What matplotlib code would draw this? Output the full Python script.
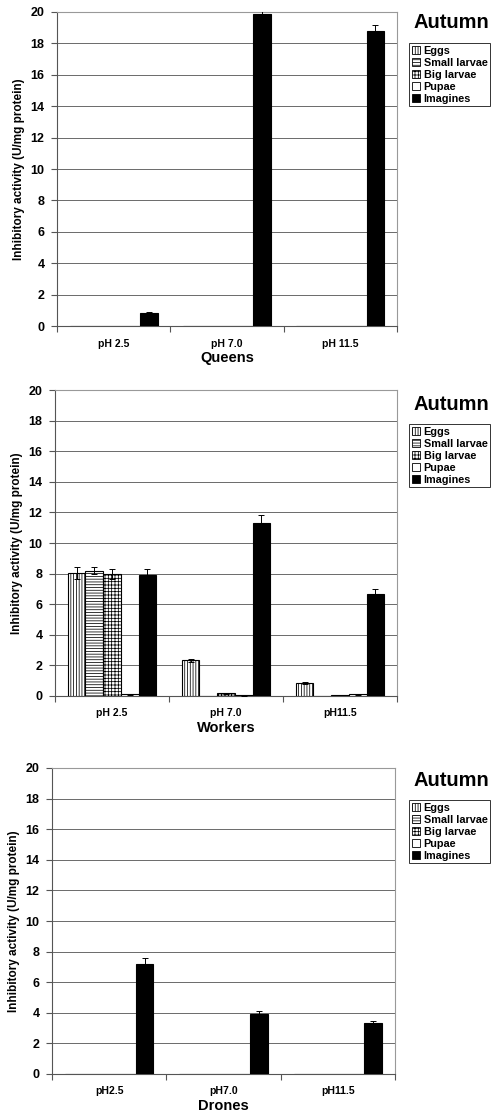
"""Autumn inhibitory activity of bee castes at three pH values."""

from __future__ import annotations

import matplotlib

matplotlib.use("Agg")
import matplotlib.pyplot as plt
import numpy as np
from matplotlib.patches import Patch

plt.rcParams["font.family"] = ["Liberation Sans", "DejaVu Sans"]
plt.rcParams["font.weight"] = "bold"
plt.rcParams["hatch.linewidth"] = 0.55

STAGES = ["Eggs", "Small larvae", "Big larvae", "Pupae", "Imagines"]
HATCHES = ["|" * 6, "-" * 6, "+" * 5, "", ""]
FACES = ["white", "white", "white", "white", "black"]

# values per stage, one entry per pH group
QUEENS = {
    "labels": ["pH 2.5", "pH 7.0", "pH 11.5"],
    "values": [[0, 0, 0], [0, 0, 0], [0, 0, 0], [0, 0, 0], [0.85, 19.85, 18.8]],
    "errors": [[0, 0, 0], [0, 0, 0], [0, 0, 0], [0, 0, 0], [0.05, 0.2, 0.4]],
}
WORKERS = {
    "labels": ["pH 2.5", "pH 7.0", "pH11.5"],
    "values": [
        [8.05, 2.35, 0.85],
        [8.2, 0.02, 0.03],
        [8.0, 0.18, 0.05],
        [0.1, 0.05, 0.1],
        [7.93, 11.3, 6.68],
    ],
    "errors": [
        [0.4, 0.1, 0.07],
        [0.25, 0, 0],
        [0.33, 0.03, 0],
        [0.05, 0.02, 0.03],
        [0.4, 0.55, 0.33],
    ],
}
DRONES = {
    "labels": ["pH2.5", "pH7.0", "pH11.5"],
    "values": [[0, 0, 0], [0, 0, 0], [0, 0, 0], [0, 0, 0], [7.2, 3.9, 3.35]],
    "errors": [[0, 0, 0], [0, 0, 0], [0, 0, 0], [0, 0, 0], [0.35, 0.2, 0.1]],
}

W_PX, H_PX = 499, 1120


def _rect(left, top, right, bottom):
    return [left / W_PX, 1 - bottom / H_PX, (right - left) / W_PX, (bottom - top) / H_PX]


def draw_panel(fig, box, data, caste, title_y, legend_y):
    ax = fig.add_axes(_rect(*box))
    x = np.arange(len(data["labels"]))
    width = 0.155
    for k, stage in enumerate(STAGES):
        vals = np.array(data["values"][k], dtype=float)
        errs = np.array(data["errors"][k], dtype=float)
        pos = x + (k - 2) * width
        ax.bar(pos, vals, width, color=FACES[k], edgecolor="black",
               hatch=HATCHES[k], linewidth=0.8, zorder=3)
        mask = errs > 0
        if mask.any():
            ax.errorbar(pos[mask], vals[mask], yerr=errs[mask], fmt="none",
                        ecolor="black", elinewidth=0.7, capsize=2, capthick=0.7, zorder=4)

    ax.set_xlim(-0.5, len(x) - 0.5)
    ax.set_ylim(0, 20)
    ax.set_yticks(np.arange(0, 21, 2))
    ax.set_xticks(np.arange(-0.5, len(x)), minor=False)
    ax.set_xticklabels([])
    ax.set_xticks(x, minor=True)
    ax.set_xticklabels(data["labels"], minor=True, fontsize=7.5, fontweight="bold")
    ax.tick_params(axis="x", which="minor", length=0, pad=9)
    ax.tick_params(axis="x", which="major", length=4, width=0.8, color="#555555")
    ax.tick_params(axis="y", length=4, width=0.8, color="#555555", labelsize=9, pad=5)
    ax.grid(axis="y", color="#6a6a6a", linewidth=0.7, zorder=0)
    for side in ["top", "right"]:
        ax.spines[side].set_color("#999999")
    for side in ["left", "bottom"]:
        ax.spines[side].set_color("#555555")
    ax.set_xlabel(caste, fontsize=10.5, fontweight="bold", labelpad=2)
    ax.set_ylabel("Inhibitory activity (U/mg protein)", fontsize=8.5, fontweight="bold", labelpad=4)

    fig.text(413 / W_PX, 1 - title_y / H_PX, "Autumn", fontsize=14.5,
             fontweight="bold", va="center", ha="left")
    handles = [Patch(facecolor=FACES[k], edgecolor="black", hatch=HATCHES[k], linewidth=0.6)
               for k in range(len(STAGES))]
    leg = fig.legend(handles, STAGES, loc="upper left",
                     bbox_to_anchor=(409 / W_PX, 1 - legend_y / H_PX),
                     fontsize=7.8, frameon=True, fancybox=False, handlelength=0.8,
                     handleheight=0.8, handletextpad=0.3, labelspacing=0.18,
                     borderpad=0.25, borderaxespad=0)
    leg.get_frame().set_edgecolor("black")
    leg.get_frame().set_linewidth(0.7)
    return ax


fig = plt.figure(figsize=(W_PX / 100, H_PX / 100), dpi=100)
draw_panel(fig, (57, 12, 397, 326), QUEENS, "Queens", 23, 43)
draw_panel(fig, (55, 390, 397, 696), WORKERS, "Workers", 404, 424)
draw_panel(fig, (52, 768, 395, 1074), DRONES, "Drones", 781, 800)
fig.savefig("out.png", dpi=100)
